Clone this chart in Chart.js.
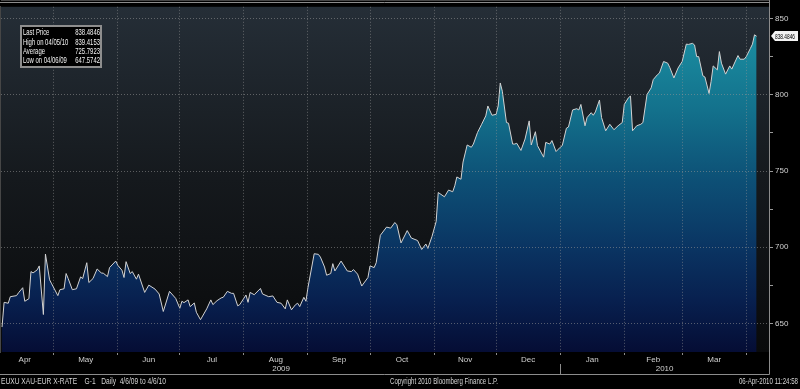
<!DOCTYPE html>
<html>
<head>
<meta charset="utf-8">
<script src="https://cdn.jsdelivr.net/npm/chart.js@4.4.0/dist/chart.umd.min.js"></script>
<style>
html, body { margin: 0; padding: 0; background: #000; }
#wrap { width: 800px; height: 389px; position: relative; }
</style>
</head>
<body>
<div id="wrap"><canvas id="gold"></canvas></div>
<script>
// XAU-EUR, daily, 4/6/09 to 4/6/10. x = calendar days since 06-Apr-2009
const dayOffsets = [
  0, 1, 3, 4, 7, 8, 10, 11, 13, 14,
  15, 17, 18, 20, 21, 23, 24, 27, 28, 30,
  31, 32, 34, 36, 38, 39, 41, 42, 44, 46,
  48, 49, 51, 52, 55, 56, 58, 59, 60, 62,
  63, 65, 66, 69, 71, 74, 76, 78, 81, 84,
  86, 87, 88, 90, 91, 93, 94, 96, 99, 101,
  102, 104, 106, 107, 109, 111, 112, 114, 115, 118,
  119, 120, 122, 125, 126, 129, 131, 133, 135, 137,
  138, 140, 142, 143, 144, 146, 147, 148, 151, 153,
  154, 156, 157, 159, 160, 161, 164, 167, 169, 170,
  172, 174, 177, 178, 180, 181, 183, 186, 188, 190,
  191, 193, 196, 198, 201, 203, 205, 206, 208, 210,
  211, 214, 216, 218, 219, 220, 222, 223, 225, 227,
  228, 230, 232, 234, 235, 237, 239, 240, 241, 242,
  244, 245, 247, 248, 249, 251, 253, 255, 256, 258,
  259, 262, 263, 265, 266, 268, 270, 271, 273, 274,
  276, 278, 279, 280, 282, 283, 285, 286, 287, 289,
  290, 292, 294, 296, 298, 300, 301, 303, 304, 305,
  307, 309, 310, 312, 314, 315, 317, 318, 320, 322,
  323, 325, 327, 329, 331, 332, 334, 335, 336, 337,
  339, 340, 342, 343, 344, 346, 347, 348, 350, 352,
  353, 355, 356, 357, 359, 360, 362, 363, 364, 365
];
const rates = [
  647.57, 663.8, 663.2, 667.5, 668.2, 670.1, 673.4, 664.5, 666.2, 684.0,
  683.1, 685.1, 687.7, 655.8, 695.5, 678.6, 676.0, 668.2, 672.1, 672.7,
  682.7, 679.4, 672.1, 672.7, 680.5, 679.4, 689.8, 676.8, 679.4, 685.7,
  683.1, 682.9, 680.7, 686.6, 690.9, 688.1, 684.9, 680.1, 690.5, 682.7,
  684.0, 679.0, 682.3, 670.3, 675.1, 672.5, 669.3, 657.8, 671.0, 666.4,
  659.9, 664.5, 663.6, 665.4, 661.0, 663.4, 657.3, 652.4, 659.5, 665.4,
  662.3, 664.9, 666.7, 667.1, 671.0, 669.7, 669.7, 661.5, 662.3, 668.6,
  663.8, 670.3, 668.8, 672.9, 669.3, 667.5, 668.0, 663.8, 663.2, 659.5,
  665.4, 658.9, 662.3, 663.2, 661.0, 667.1, 664.5, 673.6, 695.7, 695.3,
  693.5, 687.0, 681.6, 682.7, 689.2, 684.4, 690.9, 684.4, 684.0, 685.3,
  682.3, 674.5, 680.1, 687.7, 686.6, 689.8, 707.8, 713.2, 712.5, 716.2,
  714.7, 702.8, 710.9, 706.0, 704.4, 698.5, 702.1, 699.2, 707.1, 716.9,
  735.9, 733.1, 737.5, 736.4, 740.3, 746.1, 744.6, 755.9, 767.1, 765.6,
  767.7, 775.3, 780.7, 786.2, 792.7, 786.6, 787.2, 792.7, 807.8, 802.4,
  781.8, 781.4, 767.7, 767.7, 768.2, 763.5, 771.0, 782.9, 767.1, 775.8,
  766.7, 759.1, 768.8, 767.7, 770.0, 762.8, 765.6, 766.7, 778.1, 778.9,
  790.1, 790.9, 790.1, 793.7, 779.7, 785.1, 788.3, 786.6, 788.8, 796.6,
  785.1, 776.4, 780.7, 777.1, 779.7, 781.8, 793.7, 798.1, 799.2, 776.4,
  779.7, 780.7, 781.8, 800.2, 804.6, 810.0, 813.2, 814.3, 821.9, 820.8,
  818.0, 811.1, 817.6, 821.9, 833.3, 833.1, 833.8, 832.7, 825.1, 825.1,
  812.5, 811.7, 800.9, 808.9, 819.0, 816.4, 828.4, 820.8, 813.6, 819.0,
  816.9, 822.9, 825.8, 823.4, 823.4, 825.1, 830.5, 833.3, 839.4153, 838.4846
];

// axis stuff
const monthStarts = [25, 56, 86, 117, 148, 178, 209, 239, 270, 301, 329, 360];
const monthMids = [11, 40.5, 71, 101.5, 132.5, 163, 193.5, 224, 254.5, 285.5, 315, 344.5];
const monthNames = ['Apr', 'May', 'Jun', 'Jul', 'Aug', 'Sep', 'Oct', 'Nov', 'Dec', 'Jan', 'Feb', 'Mar'];
const yearMids = [135, 320.5];
const yearNames = ['2009', '2010'];
const yearSplitDay = 270;
const yTickValues = [650, 675, 700, 725, 750, 775, 800, 825, 850];

// legend box
const statLabels = ['Last Price', 'High on 04/05/10', 'Average', 'Low on 04/06/09'];
const statValues = ['838.4846', '839.4153', '725.7923', '647.5742'];
const lastPrice = 838.4846;

const footerLeft = 'EUXU XAU-EUR X-RATE    G-1   Daily  4/6/09 to 4/6/10';
const footerMid = 'Copyright 2010 Bloomberg Finance L.P.';
const footerRight = '06-Apr-2010 11:24:58';

const FONT = '"Liberation Sans Narrow", "Arial Narrow", Arial, sans-serif';
Chart.defaults.font.family = FONT;
Chart.defaults.font.size = 8;

const dotted = 'rgba(150,150,150,0.55)';

// bloomberg text is condensed, so squeeze it horizontally
function narrowText(ctx, txt, x, y, align, sx) {
    ctx.save();
    ctx.translate(x, y);
    ctx.scale(sx, 1);
    ctx.textAlign = align;
    ctx.fillText(txt, 0, 0);
    ctx.restore();
}

const bloombergFrame = {
    id: 'bloombergFrame',
    beforeDraw(chart) {
        const ctx = chart.ctx;
        const a = chart.chartArea;
        ctx.save();
        ctx.fillStyle = '#000';
        ctx.fillRect(0, 0, chart.width, chart.height);
        const g = ctx.createLinearGradient(0, a.top, 0, a.bottom);
        g.addColorStop(0, '#252e37');
        g.addColorStop(0.5, '#15191d');
        g.addColorStop(1, '#090a0b');
        ctx.fillStyle = g;
        ctx.fillRect(a.left, a.top, a.right - a.left, a.bottom - a.top);
        ctx.restore();
    },
    afterDraw(chart) {
        const ctx = chart.ctx;
        const a = chart.chartArea;
        const xs = chart.scales.x;
        const ys = chart.scales.y;
        ctx.save();

        // frame lines
        ctx.strokeStyle = '#8c8c8c';
        ctx.lineWidth = 1;
        ctx.beginPath();
        ctx.moveTo(0, 374.5); ctx.lineTo(a.right + 0.5, 374.5);
        ctx.moveTo(a.right + 0.5, 0); ctx.lineTo(a.right + 0.5, 374.5);
        ctx.moveTo(0, 2.5); ctx.lineTo(a.right, 2.5);
        const xd = Math.round(xs.getPixelForValue(yearSplitDay)) + 0.5;
        ctx.moveTo(xd, 364); ctx.lineTo(xd, 374);
        ctx.stroke();

        // stats box
        ctx.fillStyle = '#000';
        ctx.fillRect(20, 25, 82, 43);
        ctx.strokeStyle = '#8e8e8e';
        ctx.lineWidth = 2;
        ctx.strokeRect(21, 26, 80, 41);
        ctx.font = '9px ' + FONT;
        ctx.fillStyle = '#f2f2f2';
        ctx.textBaseline = 'middle';
        statLabels.forEach(function(lbl, i) {
            const yy = 33 + i * 9.3;
            narrowText(ctx, lbl, 23, yy, 'left', 0.66);
            narrowText(ctx, statValues[i], 100, yy, 'right', 0.66);
        });

        // last price tag
        const py = Math.round(ys.getPixelForValue(lastPrice));
        ctx.fillStyle = '#f4f4f4';
        ctx.beginPath();
        ctx.moveTo(771, py);
        ctx.lineTo(775, py - 5);
        ctx.lineTo(798, py - 5);
        ctx.lineTo(798, py + 5);
        ctx.lineTo(775, py + 5);
        ctx.closePath();
        ctx.fill();
        ctx.fillStyle = '#000';
        ctx.font = '8px ' + FONT;
        narrowText(ctx, statValues[0], 775, py + 0.5, 'left', 0.6);

        // footer
        ctx.font = '9px ' + FONT;
        ctx.fillStyle = '#d4d4d4';
        narrowText(ctx, footerLeft, 1, 381.5, 'left', 0.74);
        narrowText(ctx, footerMid, 390, 381.5, 'left', 0.68);
        narrowText(ctx, footerRight, 798, 381.5, 'right', 0.68);
        ctx.restore();
    }
};

function fillGradient(c) {
    const a = c.chart.chartArea;
    if (!a) return '#0d4f75';
    const g = c.chart.ctx.createLinearGradient(0, a.top, 0, a.bottom);
    g.addColorStop(0, '#1d97aa');
    g.addColorStop(0.1, '#1a8b9f');
    g.addColorStop(0.3, '#13718c');
    g.addColorStop(0.5, '#0d5076');
    g.addColorStop(0.7, '#0a3462');
    g.addColorStop(0.85, '#08204f');
    g.addColorStop(1, '#050d35');
    return g;
}

const points = dayOffsets.map(function(d, i) { return {x: d, y: rates[i]}; });

new Chart(document.getElementById('gold'), {
    type: 'line',
    data: {
        datasets: [{
            data: points,
            borderColor: '#d2d2d2',
            borderWidth: 1,
            pointRadius: 0,
            tension: 0,
            fill: 'start',
            backgroundColor: fillGradient
        }]
    },
    options: {
        responsive: true,
        maintainAspectRatio: false,
        animation: false,
        layout: { padding: { top: 3, left: 1, right: 0, bottom: 15 } },
        plugins: { legend: { display: false }, tooltip: { enabled: false } },
        scales: {
            x: {
                type: 'linear',
                min: -0.5,
                max: 371,
                weight: 0,
                afterBuildTicks(s) {
                    s.ticks = monthStarts.concat(monthMids).sort(function(a, b) { return a - b; })
                        .map(function(v) { return {value: v}; });
                },
                afterFit(s) { s.height = 12; },
                grid: {
                    z: 1,
                    color: function(c) { return c.tick && monthStarts.indexOf(c.tick.value) >= 0 ? dotted : 'transparent'; },
                    tickColor: function(c) { return c.tick && monthStarts.indexOf(c.tick.value) >= 0 ? '#8c8c8c' : 'transparent'; },
                    tickLength: 3
                },
                border: { color: '#8c8c8c', dash: [1, 2] },
                ticks: {
                    autoSkip: false,
                    maxRotation: 0,
                    padding: 0,
                    color: '#d0d0d0',
                    callback: function(v) {
                        const i = monthMids.indexOf(v);
                        return i >= 0 ? monthNames[i] : '';
                    }
                }
            },
            x2: {
                type: 'linear',
                position: 'bottom',
                min: -0.5,
                max: 371,
                weight: 1,
                afterBuildTicks(s) { s.ticks = yearMids.map(function(v) { return {value: v}; }); },
                afterFit(s) { s.height = 10; },
                grid: { display: false, drawTicks: false },
                border: { display: false },
                ticks: {
                    autoSkip: false,
                    maxRotation: 0,
                    padding: 0,
                    color: '#d0d0d0',
                    callback: function(v) {
                        const i = yearMids.indexOf(v);
                        return i >= 0 ? yearNames[i] : '';
                    }
                }
            },
            y: {
                position: 'right',
                min: 631.2,
                max: 857.8,
                afterBuildTicks(s) { s.ticks = yTickValues.map(function(v) { return {value: v}; }); },
                afterFit(s) { s.width = 31; },
                grid: {
                    z: 1,
                    color: function(c) { return c.tick && c.tick.value % 50 === 0 ? dotted : 'transparent'; },
                    tickColor: '#9a9a9a',
                    tickLength: 4
                },
                border: { color: '#8c8c8c', dash: [1, 2] },
                ticks: {
                    autoSkip: false,
                    padding: 2,
                    color: '#d0d0d0',
                    callback: function(v) { return v % 50 === 0 ? v : ''; }
                }
            }
        }
    },
    plugins: [bloombergFrame]
});
</script>
</body>
</html>
